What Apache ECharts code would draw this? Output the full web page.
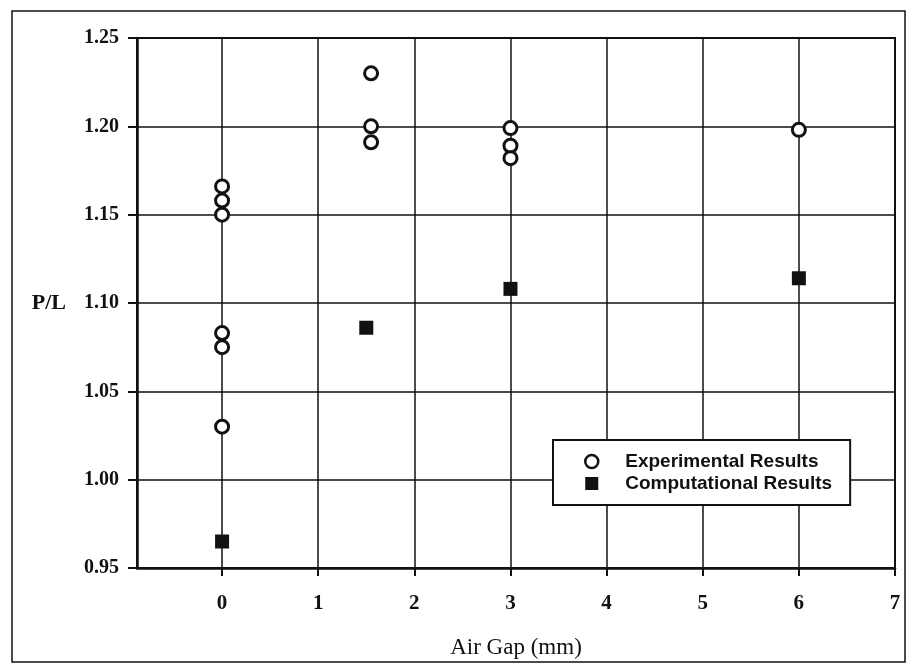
<!DOCTYPE html>
<html>
<head>
<meta charset="utf-8">
<script src="https://cdn.jsdelivr.net/npm/echarts@6/dist/echarts.min.js"></script>
<style>
html,body{margin:0;padding:0;background:#fff;}
#chart{width:907px;height:666px;}
</style>
</head>
<body>
<div id="chart"></div>
<script>
// air gap (mm) and P/L values
var expGap = [0, 0, 0, 0, 0, 0, 1.55, 1.55, 1.55, 3, 3, 3, 6];
var expPL = [1.166, 1.158, 1.150, 1.083, 1.075, 1.030, 1.230, 1.200, 1.191, 1.199, 1.189, 1.182, 1.198];
var compGap = [0, 1.5, 3, 6];
var compPL = [0.965, 1.086, 1.108, 1.114];
var xTicks = [0, 1, 2, 3, 4, 5, 6, 7];

function pairs(xs, ys){
	var out = [];
	for(var i=0;i<xs.length;i++){
		out.push([xs[i], ys[i]]);
	}
	return out;
}

var chart = echarts.init(document.getElementById('chart'));
var serif = '"Liberation Serif", "Times New Roman", serif';
var option = {
	backgroundColor: '#fff',
	animation: false,
	graphic: [{
		type: 'rect',
		shape: {x: 12, y: 11, width: 893, height: 651},
		style: {fill: 'none', stroke: '#111', lineWidth: 1.5},
		silent: true,
		z: 0
	}],
	grid: {
		left: 137,
		right: 12,
		top: 38,
		bottom: 98,
		show: true,
		borderColor: '#111',
		borderWidth: 2
	},
	xAxis: {
		type: 'value',
		min: -0.885,
		max: 7,
		name: 'Air Gap (mm)',
		nameLocation: 'middle',
		nameGap: 68,
		nameTextStyle: {fontFamily: serif, fontSize: 23, color: '#111'},
		axisLine: {onZero: false, lineStyle: {color: '#111', width: 2.5}},
		axisTick: {show: true, customValues: xTicks, length: 8, lineStyle: {color: '#111', width: 2}},
		axisLabel: {customValues: xTicks, margin: 25, fontFamily: serif, fontSize: 21, fontWeight: 'bold', color: '#111'},
		splitLine: {show: true, lineStyle: {color: '#111', width: 1.5}}
	},
	yAxis: {
		type: 'value',
		min: 0.95,
		max: 1.25,
		interval: 0.05,
		name: 'P/L',
		nameLocation: 'middle',
		nameRotate: 0,
		nameGap: 71,
		nameTextStyle: {fontFamily: serif, fontSize: 22, fontWeight: 'bold', color: '#111'},
		axisLine: {onZero: false, lineStyle: {color: '#111', width: 2.5}},
		axisTick: {show: true, length: 9, lineStyle: {color: '#111', width: 2}},
		axisLabel: {
			margin: 18,
			fontFamily: serif, fontSize: 20, fontWeight: 'bold', color: '#111',
			formatter: function(v){ return v.toFixed(2); }
		},
		splitLine: {show: true, lineStyle: {color: '#111', width: 1.5}}
	},
	legend: {
		orient: 'vertical',
		left: 553,
		top: 440,
		padding: [12, 18, 12, 31],
		itemGap: 3,
		itemWidth: 13,
		itemHeight: 13,
		backgroundColor: '#fff',
		borderColor: '#111',
		borderWidth: 2,
		textStyle: {fontFamily: '"Liberation Sans", Arial, sans-serif', fontSize: 19, fontWeight: 'bold', color: '#111', padding: [0, 0, 0, 22]},
		data: [
			{name: 'Experimental Results', icon: 'circle', itemStyle: {color: '#fff', borderColor: '#111', borderWidth: 2.5}},
			{name: 'Computational Results', icon: 'rect', itemStyle: {color: '#111'}}
		]
	},
	series: [
		{
			name: 'Experimental Results',
			type: 'scatter',
			symbol: 'circle',
			symbolSize: 13,
			itemStyle: {color: '#fff', borderColor: '#111', borderWidth: 3, opacity: 1},
			data: pairs(expGap, expPL),
			z: 3
		},
		{
			name: 'Computational Results',
			type: 'scatter',
			symbol: 'rect',
			symbolSize: 14,
			itemStyle: {color: '#111', opacity: 1},
			data: pairs(compGap, compPL),
			z: 3
		}
	]
};
chart.setOption(option);
</script>
</body>
</html>
